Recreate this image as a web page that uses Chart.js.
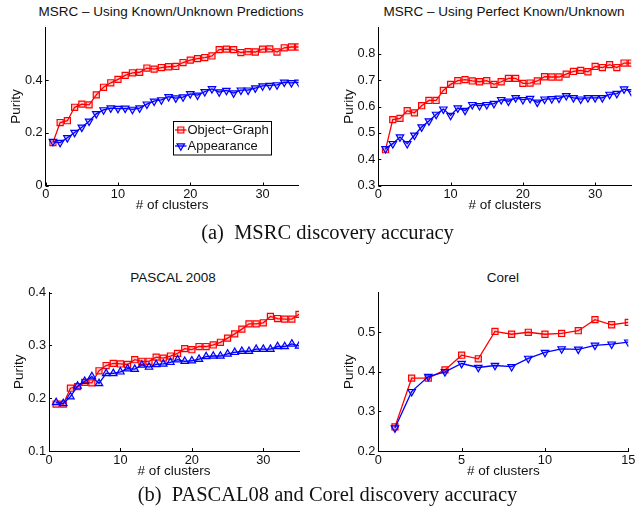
<!DOCTYPE html>
<html><head><meta charset="utf-8">
<script src="https://cdn.jsdelivr.net/npm/chart.js@4.4.0/dist/chart.umd.min.js"></script>
<style>
html,body{margin:0;padding:0;background:#fff;}
#wrap{position:relative;width:637px;height:508px;overflow:hidden;background:#fff;}
canvas{position:absolute;}
.t{position:absolute;width:300px;text-align:center;font-family:"Liberation Sans",Arial,sans-serif;font-size:13.5px;line-height:16px;color:#111;white-space:nowrap;}
.cap{position:absolute;left:0;width:655px;text-align:center;font-family:"Liberation Serif","Times New Roman",serif;font-size:20.5px;line-height:24px;color:#111;white-space:nowrap;}
</style></head>
<body><div id="wrap">
<div class="t" style="left:21px;top:4px">MSRC – Using Known/Unknown Predictions</div>
<div class="t" style="left:354px;top:4px">MSRC – Using Perfect Known/Unknown</div>
<div class="t" style="left:23px;top:269.5px">PASCAL 2008</div>
<div class="t" style="left:353px;top:269.5px">Corel</div>
<canvas id="c1" width="310" height="222" style="left:0px;top:0px"></canvas>
<canvas id="c2" width="304" height="222" style="left:333px;top:0px"></canvas>
<canvas id="c3" width="310" height="228" style="left:3px;top:260px"></canvas>
<canvas id="c4" width="304" height="228" style="left:333px;top:260px"></canvas>
<div class="cap" style="top:220px">(a)&nbsp; MSRC discovery accuracy</div>
<div class="cap" style="top:481.5px">(b)&nbsp; PASCAL08 and Corel discovery accuracy</div>
</div>
<script>
// ---- data ----
const clusters35 = [1,2,3,4,5,6,7,8,9,10,11,12,13,14,15,16,17,18,19,20,21,22,23,24,25,26,27,28,29,30,31,32,33,34,35];
const clusters15 = [1,2,3,4,5,6,7,8,9,10,11,12,13,14,15];

const msrcKnownObjectGraph = [0.163,0.239,0.246,0.297,0.309,0.306,0.344,0.373,0.390,0.403,0.418,0.428,0.430,0.446,0.442,0.448,0.451,0.452,0.467,0.476,0.482,0.486,0.492,0.516,0.518,0.516,0.505,0.508,0.507,0.518,0.519,0.507,0.523,0.526,0.526];
const msrcKnownAppearance = [0.167,0.163,0.181,0.201,0.221,0.244,0.272,0.287,0.294,0.292,0.293,0.289,0.294,0.309,0.320,0.325,0.337,0.332,0.336,0.348,0.343,0.356,0.367,0.355,0.361,0.351,0.362,0.362,0.370,0.378,0.380,0.382,0.392,0.390,0.392];

const msrcPerfectObjectGraph = [0.436,0.550,0.555,0.584,0.576,0.603,0.623,0.623,0.661,0.684,0.698,0.702,0.697,0.694,0.698,0.684,0.694,0.707,0.707,0.688,0.689,0.697,0.713,0.712,0.712,0.723,0.733,0.737,0.732,0.752,0.748,0.759,0.748,0.765,0.765];
const msrcPerfectAppearance = [0.440,0.459,0.484,0.459,0.491,0.522,0.545,0.570,0.590,0.566,0.594,0.585,0.607,0.603,0.607,0.611,0.626,0.620,0.633,0.626,0.630,0.616,0.628,0.629,0.631,0.641,0.633,0.628,0.633,0.633,0.633,0.646,0.649,0.666,0.656];

const pascalObjectGraph = [0.189,0.189,0.219,0.222,0.230,0.229,0.252,0.262,0.266,0.265,0.264,0.273,0.270,0.270,0.278,0.276,0.280,0.285,0.294,0.292,0.298,0.298,0.301,0.306,0.314,0.322,0.331,0.341,0.341,0.343,0.355,0.351,0.350,0.350,0.359];
const pascalAppearance = [0.192,0.190,0.203,0.223,0.232,0.241,0.228,0.247,0.247,0.250,0.256,0.255,0.263,0.259,0.264,0.265,0.268,0.273,0.270,0.271,0.274,0.279,0.280,0.280,0.284,0.287,0.289,0.289,0.293,0.293,0.293,0.298,0.298,0.303,0.299];

const corelObjectGraph = [0.261,0.384,0.384,0.405,0.442,0.433,0.502,0.495,0.500,0.495,0.497,0.504,0.532,0.519,0.525];
const corelAppearance = [0.258,0.350,0.388,0.400,0.421,0.411,0.416,0.413,0.434,0.449,0.458,0.457,0.467,0.470,0.475];

const xTicks35 = [0,10,20,30];
const xTicks15 = [0,5,10,15];
const yTicksMsrcKnown = [0,0.2,0.4];
const yTicksMsrcPerfect = [0.3,0.4,0.5,0.6,0.7,0.8];
const yTicksPascal = [0.1,0.2,0.3,0.4];
const yTicksCorel = [0.2,0.3,0.4,0.5];

const seriesNames = ['Object\u2212Graph','Appearance'];
const xTitle = '# of clusters';
const yTitle = 'Purity';

// ---- styling ----
const RED = '#ff0000', BLUE = '#0000ff';
const RED_FILL = 'rgba(255,0,0,0.18)', BLUE_FILL = 'rgba(0,0,255,0.18)';
const TXT = '#111';
const SANS = '"Liberation Sans", Arial, sans-serif';

const inwardTicks = {
  id: 'inwardTicks',
  afterDraw(chart) {
    const ctx = chart.ctx, a = chart.chartArea, xs = chart.scales.x, ys = chart.scales.y;
    ctx.save();
    ctx.strokeStyle = '#000'; ctx.lineWidth = 1;
    ctx.beginPath();
    xs.ticks.forEach(t => { const px = Math.round(xs.getPixelForValue(t.value)) + 0.5; ctx.moveTo(px, a.bottom); ctx.lineTo(px, a.bottom - 3); });
    ys.ticks.forEach(t => { const py = Math.round(ys.getPixelForValue(t.value)) + 0.5; ctx.moveTo(a.left, py); ctx.lineTo(a.left + 3, py); });
    ctx.stroke();
    ctx.restore();
  }
};

function drawMarker(ctx, kind, x, y, color) {
  ctx.save();
  ctx.strokeStyle = color; ctx.lineWidth = 1.2;
  ctx.fillStyle = kind === 'rect' ? RED_FILL : BLUE_FILL;
  ctx.beginPath();
  if (kind === 'rect') {
    ctx.rect(x - 3, y - 3, 6, 6);
  } else {
    const r = 4.3;
    ctx.moveTo(x, y + r);
    ctx.lineTo(x - r * Math.sin(Math.PI / 3), y - r / 2);
    ctx.lineTo(x + r * Math.sin(Math.PI / 3), y - r / 2);
    ctx.closePath();
  }
  ctx.fill(); ctx.stroke();
  ctx.restore();
}

const legendBox = {
  id: 'legendBox',
  afterDraw(chart) {
    const ctx = chart.ctx;
    const bx = 173.5, by = 121.5, bw = 98, bh = 33.5;
    ctx.save();
    ctx.fillStyle = '#fff'; ctx.fillRect(bx, by, bw, bh);
    ctx.strokeStyle = '#000'; ctx.lineWidth = 1; ctx.strokeRect(bx, by, bw, bh);
    const rows = [{y: 130, c: RED, k: 'rect'}, {y: 146, c: BLUE, k: 'tri'}];
    rows.forEach((r, i) => {
      ctx.strokeStyle = r.c; ctx.lineWidth = 1.3;
      ctx.beginPath(); ctx.moveTo(175, r.y); ctx.lineTo(186.5, r.y); ctx.stroke();
      drawMarker(ctx, r.k, 180.8, r.y, r.c);
      ctx.fillStyle = TXT;
      ctx.font = '13px ' + SANS;
      ctx.textBaseline = 'middle'; ctx.textAlign = 'left';
      ctx.fillText(seriesNames[i], 187.5, r.y);
    });
    ctx.restore();
  }
};

function pts(xs, ys) { return xs.map((v, i) => ({x: v, y: ys[i]})); }

function makeChart(id, cfg) {
  const xH = cfg.xH, yW = cfg.yW;
  const titleFont = 13.5, lh = titleFont * 1.2;
  const datasets = [
    {label: seriesNames[1], data: pts(cfg.xs, cfg.app), borderColor: BLUE, backgroundColor: BLUE,
     pointStyle: 'triangle', pointRotation: cfg.triUp ? 0 : 180, pointRadius: 4.3, pointHoverRadius: 4.3,
     pointBorderColor: BLUE, pointBackgroundColor: BLUE_FILL, pointBorderWidth: 1.2,
     borderWidth: 1.3, tension: 0, fill: false, order: 0},
    {label: seriesNames[0], data: pts(cfg.xs, cfg.obj), borderColor: RED, backgroundColor: RED,
     pointStyle: 'rect', pointRadius: 4.3, pointHoverRadius: 4.3,
     pointBorderColor: RED, pointBackgroundColor: RED_FILL, pointBorderWidth: 1.2,
     borderWidth: 1.3, tension: 0, fill: false, order: 1}
  ];
  return new Chart(document.getElementById(id), {
    type: 'line',
    data: {datasets},
    plugins: cfg.legend ? [inwardTicks, legendBox] : [inwardTicks],
    options: {
      responsive: false, animation: false, devicePixelRatio: 1,
      layout: {padding: {left: 0, top: cfg.padTop, right: cfg.padRight, bottom: 0}},
      plugins: {legend: {display: false}, tooltip: {enabled: false}, title: {display: false}},
      scales: {
        x: {
          type: 'linear', min: cfg.xMin, max: cfg.xMax,
          afterBuildTicks: s => { s.ticks = cfg.xTicks.map(v => ({value: v})); },
          afterFit: s => { s.height = xH; },
          grid: {display: false, drawTicks: false},
          border: {display: true, color: '#000', width: 1},
          ticks: {color: TXT, padding: 1.5, maxRotation: 0, autoSkip: false,
                  font: {family: SANS, size: 12.8}, callback: v => String(Number(v.toFixed(2)))},
          title: {display: true, text: xTitle, color: TXT, font: {family: SANS, size: titleFont},
                  padding: {top: 0, bottom: xH - 20 - lh / 2}}
        },
        y: {
          type: 'linear', min: cfg.yMin, max: cfg.yMax,
          afterBuildTicks: s => { s.ticks = cfg.yTicks.map(v => ({value: v})); },
          afterFit: s => { s.width = yW; },
          grid: {display: false, drawTicks: false},
          border: {display: true, color: '#000', width: 1},
          ticks: {color: TXT, padding: 3, autoSkip: false,
                  font: {family: SANS, size: 12.8}, callback: v => String(Number(v.toFixed(2)))},
          title: {display: true, text: yTitle, color: TXT, font: {family: SANS, size: titleFont},
                  padding: {top: 16.2 - lh / 2, bottom: 0}}
        }
      }
    }
  });
}

makeChart('c1', {xs: clusters35, obj: msrcKnownObjectGraph, app: msrcKnownAppearance, xMin: 0, xMax: 35, xTicks: xTicks35,
  yMin: 0, yMax: 0.6, yTicks: yTicksMsrcKnown, yW: 45.7, xH: 36.5, padTop: 27.5, padRight: 11.3, legend: true});
makeChart('c2', {xs: clusters35, obj: msrcPerfectObjectGraph, app: msrcPerfectAppearance, xMin: 0, xMax: 35, xTicks: xTicks35,
  yMin: 0.3, yMax: 0.9, yTicks: yTicksMsrcPerfect, yW: 45.3, xH: 36.5, padTop: 27.5, padRight: 5.7});
makeChart('c3', {xs: clusters35, obj: pascalObjectGraph, app: pascalAppearance, xMin: 0, xMax: 35, xTicks: xTicks35,
  yMin: 0.1, yMax: 0.4, yTicks: yTicksPascal, yW: 46, xH: 37, padTop: 32.7, padRight: 14, triUp: true});
makeChart('c4', {xs: clusters15, obj: corelObjectGraph, app: corelAppearance, xMin: 0, xMax: 15, xTicks: xTicks15,
  yMin: 0.2, yMax: 0.6, yTicks: yTicksCorel, yW: 45.3, xH: 37, padTop: 32.7, padRight: 8.7});
</script>
</body></html>
